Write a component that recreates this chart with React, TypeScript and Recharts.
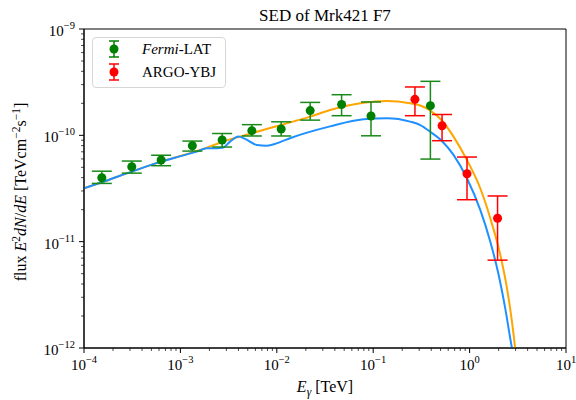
import React from 'react';
import { ComposedChart, Line, Scatter, XAxis, YAxis, ErrorBar, Legend, ReferenceArea, Label } from 'recharts';

const FONT = "'Liberation Serif', 'Times New Roman', serif";

// model curves, energy in TeV, flux in TeV cm^-2 s^-1
const orangeE = [1e-4, 1.53e-4, 3.13e-4, 6.3e-4, 1.0e-3, 1.88e-3, 2.7e-3, 5.51e-3, 1.11e-2, 2.22e-2, 3.57e-2, 7.93e-2, 0.139, 0.242, 0.308, 0.391, 0.516, 0.681, 0.938, 1.29, 1.64, 2.08, 2.44, 2.75, 2.98, 3.09];
const orangeF = [3.18e-11, 3.62e-11, 4.56e-11, 5.66e-11, 6.4e-11, 7.66e-11, 8.65e-11, 1.047e-10, 1.253e-10, 1.5e-10, 1.73e-10, 2.03e-10, 2.1e-10, 2.0e-10, 1.91e-10, 1.71e-10, 1.38e-10, 9.73e-11, 5.87e-11, 3.18e-11, 1.66e-11, 7.52e-12, 3.66e-12, 1.77e-12, 9.6e-13, 6.95e-13];

const blueE = [1e-4, 1.53e-4, 3.13e-4, 6.3e-4, 1.0e-3, 1.48e-3, 1.88e-3, 2.38e-3, 2.79e-3, 3.27e-3, 4.0e-3, 4.69e-3, 6.21e-3, 7.87e-3, 1.08e-2, 1.37e-2, 3.57e-2, 7.93e-2, 0.139, 0.242, 0.308, 0.391, 0.516, 0.681, 0.938, 1.29, 1.64, 2.0, 2.34, 2.75, 2.99];
const blueF = [3.18e-11, 3.62e-11, 4.56e-11, 5.66e-11, 6.37e-11, 7.03e-11, 7.57e-11, 7.57e-11, 7.7e-11, 8.73e-11, 9.73e-11, 9.25e-11, 8.12e-11, 8.0e-11, 8.63e-11, 9.39e-11, 1.214e-10, 1.416e-10, 1.448e-10, 1.346e-10, 1.25e-10, 1.08e-10, 8.85e-11, 6.55e-11, 3.95e-11, 1.99e-11, 1.0e-11, 4.88e-12, 2.37e-12, 9.98e-13, 6.95e-13];

// Fermi-LAT
const fermiE = [1.53e-4, 3.13e-4, 6.31e-4, 1.33e-3, 2.71e-3, 5.51e-3, 1.11e-2, 2.22e-2, 4.7e-2, 9.49e-2, 0.392];
const fermiF = [3.99e-11, 5.07e-11, 5.86e-11, 7.98e-11, 9.04e-11, 1.107e-10, 1.146e-10, 1.71e-10, 1.95e-10, 1.52e-10, 1.9e-10];
const fermiLo = [3.53e-11, 4.41e-11, 5.18e-11, 7.11e-11, 7.76e-11, 9.86e-11, 9.86e-11, 1.39e-10, 1.53e-10, 9.9e-11, 5.98e-11];
const fermiHi = [4.6e-11, 5.73e-11, 6.5e-11, 8.83e-11, 1.04e-10, 1.26e-10, 1.34e-10, 2.04e-10, 2.41e-10, 2.06e-10, 3.22e-10];

// ARGO-YBJ
const argoE = [0.271, 0.518, 0.94, 1.95];
const argoF = [2.18e-10, 1.23e-10, 4.35e-11, 1.66e-11];
const argoLo = [1.53e-10, 8.9e-11, 2.48e-11, 6.7e-12];
const argoHi = [2.85e-10, 1.57e-10, 6.25e-11, 2.69e-11];

const xDecades = [-4, -3, -2, -1, 0, 1];
const yDecades = [-12, -11, -10, -9];
const minorSteps = [2, 3, 4, 5, 6, 7, 8, 9];

const curve = (es: number[], fs: number[]) => es.map((e, i) => ({ e, f: fs[i] }));
const points = (es: number[], fs: number[], lo: number[], hi: number[]) =>
  es.map((e, i) => ({ e, f: fs[i], err: [fs[i] - lo[i], hi[i] - fs[i]] }));

const logTicks = (decs: number[]) => {
  const out: number[] = [];
  decs.forEach((d, i) => {
    out.push(Math.pow(10, d));
    if (i < decs.length - 1) minorSteps.forEach((m) => out.push(m * Math.pow(10, d)));
  });
  return out;
};

const xTicks = logTicks(xDecades);
const yTicks = logTicks(yDecades);

const expText = (d: number) => (d < 0 ? '\u2212' + Math.abs(d) : String(d));
const decade = (v: number) => {
  const d = Math.log10(v);
  return Math.abs(d - Math.round(d)) < 1e-6 ? Math.round(d) : null;
};

const XTick = (props: any) => {
  const { x, y, payload } = props;
  const d = decade(payload.value);
  return (
    <g>
      <line x1={x} x2={x} y1={y} y2={y + (d !== null ? 5 : 3)} stroke="#000" strokeWidth={d !== null ? 1 : 0.7} />
      {d !== null && (
        <text x={x} y={y + 22} textAnchor="middle" fontFamily={FONT} fontSize={15} fill="#000">
          10<tspan dy={-7} fontSize={10.5}>{expText(d)}</tspan>
        </text>
      )}
    </g>
  );
};

const YTick = (props: any) => {
  const { x, y, payload } = props;
  const d = decade(payload.value);
  return (
    <g>
      <line x1={x} x2={x - (d !== null ? 5 : 3)} y1={y} y2={y} stroke="#000" strokeWidth={d !== null ? 1 : 0.7} />
      {d !== null && (
        <text x={x - 9} y={y + 7} textAnchor="end" fontFamily={FONT} fontSize={15} fill="#000">
          10<tspan dy={-7} fontSize={10.5}>{expText(d)}</tspan>
        </text>
      )}
    </g>
  );
};

const XTitle = () => (
  <text x={325} y={392} textAnchor="middle" fontFamily={FONT} fontSize={16} fill="#000">
    <tspan fontStyle="italic">E</tspan>
    <tspan dy={4} fontSize={11.5} fontStyle="italic">γ</tspan>
    <tspan dy={-4}> [TeV]</tspan>
  </text>
);

const YTitle = () => (
  <text x={0} y={0} transform="translate(26,192) rotate(-90)" textAnchor="middle" fontFamily={FONT} fontSize={16} fill="#000">
    flux <tspan fontStyle="italic">E</tspan>
    <tspan dy={-6} fontSize={11.5}>2</tspan>
    <tspan dy={6} fontStyle="italic">dN</tspan>/<tspan fontStyle="italic">dE</tspan> [TeVcm
    <tspan dy={-6} fontSize={11.5}>{'\u22122'}</tspan>
    <tspan dy={6}>s</tspan>
    <tspan dy={-6} fontSize={11.5}>{'\u22121'}</tspan>
    <tspan dy={6}>]</tspan>
  </text>
);

const Glyph = ({ color }: { color: string }) => (
  <svg width={14} height={20} style={{ display: 'block' }}>
    <line x1={7} x2={7} y1={2} y2={18} stroke={color} strokeWidth={1.5} />
    <line x1={2} x2={12} y1={2} y2={2} stroke={color} strokeWidth={1.5} />
    <line x1={2} x2={12} y1={18} y2={18} stroke={color} strokeWidth={1.5} />
    <circle cx={7} cy={10} r={4.5} fill={color} />
  </svg>
);

const renderLegend = () => (
  <div
    style={{
      position: 'relative',
      boxSizing: 'border-box',
      width: 134,
      height: 51,
      border: '1px solid #d6d6d6',
      borderRadius: 4,
      background: 'rgba(255,255,255,0.8)',
      fontFamily: FONT,
      fontSize: 15,
      color: '#000',
    }}
  >
    <div style={{ position: 'absolute', top: 1, left: 14, height: 20 }}>
      <Glyph color="#008000" />
    </div>
    <div style={{ position: 'absolute', top: 1, left: 49, lineHeight: '20px' }}>
      <i>Fermi</i>-LAT
    </div>
    <div style={{ position: 'absolute', top: 24, left: 14, height: 20 }}>
      <Glyph color="#ff0000" />
    </div>
    <div style={{ position: 'absolute', top: 24, left: 49, lineHeight: '20px' }}>ARGO-YBJ</div>
  </div>
);

export default function App() {
  return (
    <div style={{ position: 'absolute', left: 0, top: 0, width: 576, height: 400, background: '#fff' }}>
      <svg width={576} height={30} style={{ position: 'absolute', left: 0, top: 0 }}>
        <text x={325} y={21} textAnchor="middle" fontFamily={FONT} fontSize={17} fill="#000">
          SED of Mrk421 F7
        </text>
      </svg>
      <ComposedChart width={576} height={400} margin={{ top: 29, right: 10, left: 0, bottom: 0 }} style={{ position: 'absolute', left: 0, top: 0 }}>
        <XAxis
          dataKey="e"
          type="number"
          scale="log"
          domain={[Math.pow(10, xDecades[0]), Math.pow(10, xDecades[xDecades.length - 1])]}
          allowDataOverflow
          ticks={xTicks}
          interval={0}
          tick={<XTick />}
          tickLine={false}
          tickSize={0}
          tickMargin={0}
          height={52}
          axisLine={{ stroke: '#000' }}
        >
          <Label content={<XTitle />} />
        </XAxis>
        <YAxis
          dataKey="f"
          type="number"
          scale="log"
          domain={[Math.pow(10, yDecades[0]), Math.pow(10, yDecades[yDecades.length - 1])]}
          allowDataOverflow
          ticks={yTicks}
          interval={0}
          tick={<YTick />}
          tickLine={false}
          tickSize={0}
          tickMargin={0}
          width={84}
          axisLine={{ stroke: '#000' }}
        >
          <Label content={<YTitle />} />
        </YAxis>
        <ReferenceArea x1={1e-4} x2={10} y1={1e-12} y2={1e-9} fill="none" stroke="#000" strokeWidth={1} />
        <Line data={curve(orangeE, orangeF)} dataKey="f" type="monotone" stroke="#ffa500" strokeWidth={2} dot={false} isAnimationActive={false} legendType="none" />
        <Line data={curve(blueE, blueF)} dataKey="f" type="monotone" stroke="#1e90ff" strokeWidth={2} dot={false} isAnimationActive={false} legendType="none" />
        <Scatter
          data={points(fermiE, fermiF, fermiLo, fermiHi)}
          dataKey="f"
          isAnimationActive={false}
          shape={(p: any) => <circle cx={p.cx} cy={p.cy} r={4.5} fill="#008000" />}
        >
          <ErrorBar dataKey="err" direction="y" width={10} stroke="#1a8a1a" strokeWidth={1.5} />
        </Scatter>
        <Scatter
          data={points(argoE, argoF, argoLo, argoHi)}
          dataKey="f"
          isAnimationActive={false}
          shape={(p: any) => <circle cx={p.cx} cy={p.cy} r={4.5} fill="#ff0000" />}
        >
          <ErrorBar dataKey="err" direction="y" width={10} stroke="#ff0000" strokeWidth={1.5} />
        </Scatter>
        <Legend
          layout="vertical"
          align="center"
          verticalAlign="middle"
          content={renderLegend}
          wrapperStyle={{ left: 92, top: 37, width: 134, height: 51 }}
        />
      </ComposedChart>
    </div>
  );
}
